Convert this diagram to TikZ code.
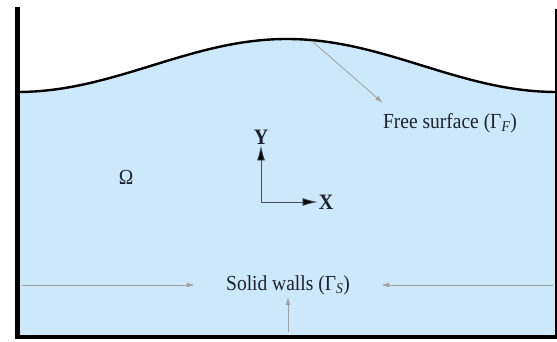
\documentclass[tikz,border=0pt]{standalone}
\usepackage{fontspec}
\usepackage{graphicx}
\setmainfont{Liberation Serif}
\usetikzlibrary{arrows.meta,calc,positioning}

\definecolor{water}{HTML}{CCE8FA}
\definecolor{ink}{HTML}{1C2230}
\newcommand{\tallt}[1]{\scalebox{1}[1.1]{#1}}

\begin{document}
\begin{tikzpicture}[
  x=1pt, y=-1pt,
  lbl/.style={text=ink, inner sep=2pt, font=\fontsize{19.5}{23}\selectfont},
  axlbl/.style={text=ink, inner sep=1pt, font=\fontsize{20}{24}\selectfont\bfseries},
  ptr/.style={draw=gray!75, line width=0.8pt, -{Latex[length=8pt,width=4.5pt]}},
  axis/.style={draw=ink!80, line width=0.8pt, -{Latex[length=15pt,width=8pt,fill=black]}},
  wall/.style={draw=black, line cap=rect}
]
  \useasboundingbox (0,0) rectangle (557,342);

  % Water body
  \fill[water] (17,92)
    plot[domain=17:555, samples=80, smooth] (\x,{65.5+26.5*cos((\x-17)/1.5)})
    -- (555,336) -- (17,336) -- cycle;
  \draw[line width=2.4pt] plot[domain=17:555, samples=80, smooth] (\x,{65.5+26.5*cos((\x-17)/1.5)});

  % Tank walls
  \draw[wall, line width=5pt] (17,10) -- (17,336);
  \draw[wall, line width=4pt] (17,337) -- (557,337);
  \draw[wall, line width=2pt] (555.5,10) -- (555.5,337);

  % Labels
  \node[lbl] (omega) at (126,177) {\tallt{Ω}};
  \node[lbl] (free) at (450,123) {\tallt{Free surface (Γ\textsubscript{\textit{F}})}};
  \node[lbl] (solid) at (288,285) {\tallt{Solid walls (Γ\textsubscript{\textit{S}})}};

  % Axes
  \coordinate (o) at (261,202);
  \node[axlbl] (ylab) at (261,137) {\tallt{Y}};
  \node[axlbl] (xlab) at (326,202) {\tallt{X}};
  \draw[axis] (o) -- (ylab);
  \draw[axis] (o) -- (xlab);

  % Pointers
  \coordinate (crest) at (313,42);
  \coordinate (fstip) at (383,103);
  \coordinate (lw) at (22,285);
  \coordinate (rw) at (553,285);
  \coordinate (bw) at (288,332);
  \draw[ptr] (crest) -- (fstip);
  \draw[ptr, shorten >=29pt] (lw) -- (solid);
  \draw[ptr, shorten >=29pt] (rw) -- (solid);
  \draw[ptr] (bw) -- (solid);
\end{tikzpicture}
\end{document}
